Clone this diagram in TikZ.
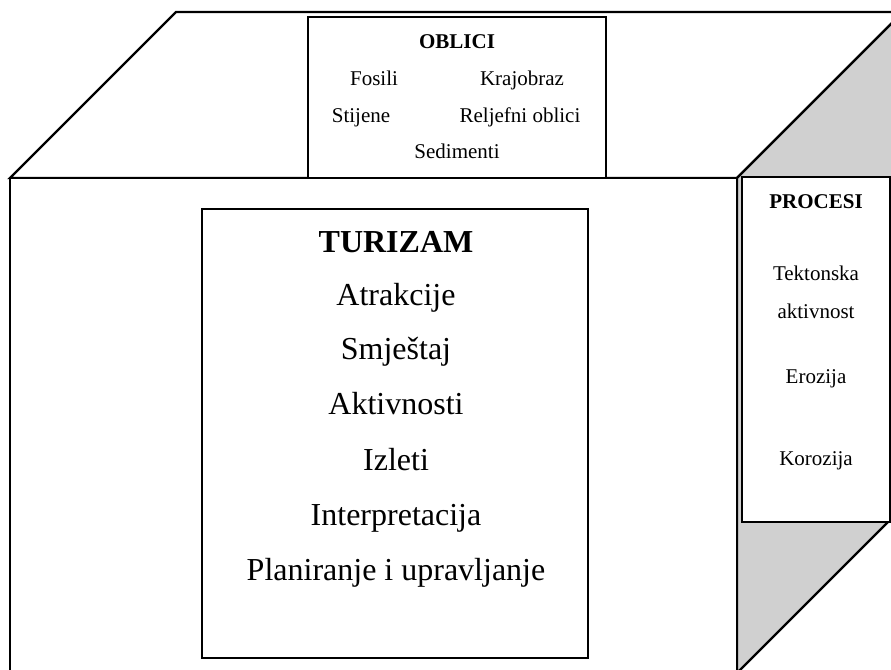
\documentclass[tikz,border=0pt]{standalone}
\usepackage{fontspec}
\setmainfont{Liberation Serif}
\usepackage{tikz}
\definecolor{facegray}{RGB}{208,208,208}
\newcommand{\panel}[4]{ \draw[line width=0.9pt, fill=white] ( #1 , #2 ) rectangle ( #3 , #4 );}
\newcommand{\bigfont}{\fontsize{24}{28}\selectfont}
\newcommand{\smallfont}{\fontsize{15.75}{19}\selectfont}
\tikzset{
  edge/.style={line width=1.8pt, line join=miter},
  bigtxt/.style={anchor=base, inner sep=0pt, font=\bigfont},
  smalltxt/.style={anchor=base, inner sep=0pt, font=\smallfont}
}

\begin{document}
\begin{tikzpicture}[x=0.75pt, y=-0.75pt]
\useasboundingbox (0,0) rectangle (891,669);
\clip (0,0) rectangle (891,669);
%
\draw[edge, fill=white] (10,178) -- (176,12) -- (903,12) -- (737,178) -- cycle;
\panel{308}{17}{606}{178}
\draw[edge, fill=facegray] (737,178) -- (903,12) -- (903,507) -- (737,673) -- cycle;
\panel{742}{177}{890}{522}
\draw[edge, fill=white] (10,178) rectangle (737,673);
\panel{202}{209}{588}{658}
%
\node[smalltxt, font=\smallfont\bfseries] (oblici) at (457,48) {OBLICI};
\node[smalltxt] (fosili) at (374,85) {Fosili};
\node[smalltxt] (krajobraz) at (522,85) {Krajobraz};
\node[smalltxt] (stijene) at (361,122) {Stijene};
\node[smalltxt] (reljef) at (520,122) {Reljefni oblici};
\node[smalltxt] (sedimenti) at (457,158) {Sedimenti};
%
\node[smalltxt, font=\smallfont\bfseries] (procesi) at (816,208) {PROCESI};
\node[smalltxt] (tekt) at (816,280) {Tektonska};
\node[smalltxt] (aktiv) at (816,318) {aktivnost};
\node[smalltxt] (erozija) at (816,383) {Erozija};
\node[smalltxt] (korozija) at (816,465) {Korozija};
%
\node[bigtxt, font=\bigfont\bfseries] (turizam) at (396,252) {TURIZAM};
\node[bigtxt] (atrakcije) at (396,305) {Atrakcije};
\node[bigtxt] (smjestaj) at (396,359) {Smještaj};
\node[bigtxt] (aktivnosti) at (396,414) {Aktivnosti};
\node[bigtxt] (izleti) at (396,470) {Izleti};
\node[bigtxt] (interp) at (396,525) {Interpretacija};
\node[bigtxt] (plan) at (396,580) {Planiranje i upravljanje};

\end{tikzpicture}
\end{document}
